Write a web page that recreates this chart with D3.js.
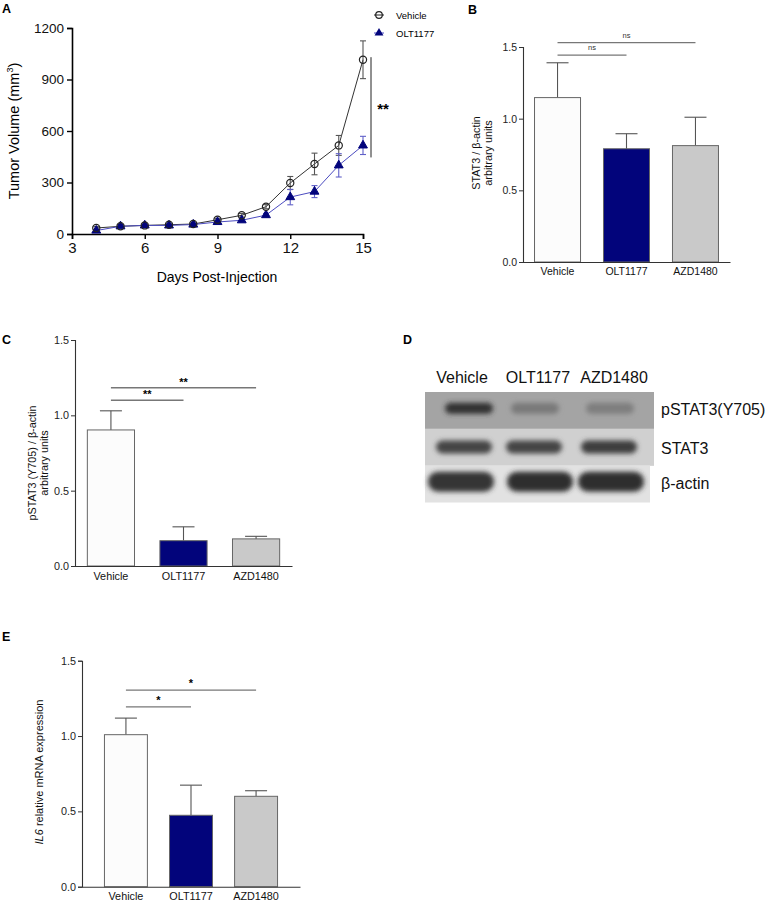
<!DOCTYPE html>
<html><head><meta charset="utf-8">
<script src="https://cdn.jsdelivr.net/npm/d3@7"></script>
<style>
html,body{margin:0;padding:0;background:#fff;}
svg{display:block;font-family:"Liberation Sans",Arial,sans-serif;}
</style></head>
<body>
<svg id="fig" width="768" height="902"></svg>
<script>
// ---------- DATA ----------
const days = [4,5,6,7,8,9,10,11,12,13,14,15];
const vehicleMean = [35,45,50,54,58,83,109,159,297,408,516,1015];
const vehicleErr  = [8,8,6,6,6,8,10,12,38,63,58,110];
const oltMean = [20,45,50,50,55,70,80,110,215,247,400,516];
const oltErr  = [5,6,6,6,6,8,10,10,45,35,68,53];
const dayTicks = [3,6,9,12,15];
const volTicks = [0,300,600,900,1200];

const groups = ["Vehicle","OLT1177","AZD1480"];
const stat3Mean = [1.147,0.79,0.812];
const stat3Err  = [0.243,0.105,0.198];
const pstat3Mean = [0.903,0.168,0.18];
const pstat3Err  = [0.127,0.092,0.017];
const il6Mean = [1.009,0.474,0.60];
const il6Err  = [0.11,0.20,0.037];
const ratioTicks = [0,0.5,1.0,1.5];

const sigB = [{to:"OLT1177",level:1.444,label:"ns"},{to:"AZD1480",level:1.53,label:"ns"}];
const sigC = [{to:"OLT1177",level:1.10,label:"**"},{to:"AZD1480",level:1.183,label:"**"}];
const sigE = [{to:"OLT1177",level:1.193,label:"*"},{to:"AZD1480",level:1.305,label:"*"}];

const blotRows = ["pSTAT3(Y705)","STAT3","β-actin"];
const blotIntensity = [[0.85,0.32,0.28],[0.78,0.78,0.82],[0.88,0.92,0.92]];

const barFill = ["#fcfcfc","#02047b","#c9c9c9"];

const svg = d3.select("#fig");

// panel letters
[["A",2,13],["B",468,14],["C",2,344],["D",403,344],["E",2,641]].forEach(([t,x,y])=>{
  svg.append("text").attr("x",x).attr("y",y).attr("font-size",12.5).attr("font-weight","bold").text(t);
});

// ---------- PANEL A ----------
(function(){
  const x = d3.scaleLinear().domain([3,15]).range([72,363]);
  const y = d3.scaleLinear().domain([0,1200]).range([234,28]);
  const g = svg.append("g");
  const xa = g.append("g").attr("transform","translate(0,234)")
    .call(d3.axisBottom(x).tickValues(dayTicks).tickSize(5).tickPadding(3));
  xa.selectAll("text").attr("font-size",15).attr("fill","#111");
  const ya = g.append("g").attr("transform","translate(72,0)")
    .call(d3.axisLeft(y).tickValues(volTicks).tickFormat(d3.format("d")).tickSize(5).tickPadding(3));
  ya.selectAll("text").attr("font-size",13.5).attr("fill","#111");
  [xa,ya].forEach(a=>{a.select(".domain").attr("stroke","#000").attr("stroke-width",1.6);
    a.selectAll(".tick line").attr("stroke","#000").attr("stroke-width",1.4);});
  g.append("text").attr("x",217).attr("y",282).attr("text-anchor","middle")
    .attr("font-size",14).text("Days Post-Injection");
  const yt = g.append("text").attr("transform","translate(19,131) rotate(-90)")
    .attr("text-anchor","middle").attr("font-size",14.5);
  yt.append("tspan").text("Tumor Volume (mm");
  yt.append("tspan").attr("font-size",9).attr("dy",-6).text("3");
  yt.append("tspan").attr("dy",6).text(")");

  function series(mean,err,lineCol,errCol){
    const pts = days.map((d,i)=>({d,m:mean[i],e:err[i]}));
    g.append("path").datum(pts).attr("fill","none").attr("stroke",lineCol).attr("stroke-width",1)
      .attr("d",d3.line().x(p=>x(p.d)).y(p=>y(p.m)));
    const eb = g.append("g").attr("stroke",errCol).attr("stroke-width",1.1);
    pts.forEach(p=>{
      eb.append("line").attr("x1",x(p.d)).attr("x2",x(p.d)).attr("y1",y(p.m-p.e)).attr("y2",y(p.m+p.e));
      [p.m-p.e,p.m+p.e].forEach(v=>eb.append("line").attr("x1",x(p.d)-3).attr("x2",x(p.d)+3).attr("y1",y(v)).attr("y2",y(v)));
    });
    return pts;
  }
  const vp = series(vehicleMean,vehicleErr,"#333","#555");
  const op = series(oltMean,oltErr,"#4b4bc0","#6060c8");
  g.selectAll(".tri").data(op).join("path").attr("fill","#02047b").attr("stroke","#02047b")
    .attr("transform",p=>`translate(${x(p.d)},${y(p.m)})`)
    .attr("d",d3.symbol(d3.symbolTriangle,34));
  g.selectAll(".circ").data(vp).join("circle").attr("cx",p=>x(p.d)).attr("cy",p=>y(p.m)).attr("r",3.6)
    .attr("fill","none").attr("stroke","#222").attr("stroke-width",1.2);
  // significance
  g.append("line").attr("x1",371).attr("x2",371).attr("y1",y(vehicleMean[11]+15)).attr("y2",y(oltMean[11]-70))
    .attr("stroke","#222").attr("stroke-width",1);
  g.append("text").attr("x",383).attr("y",114).attr("text-anchor","middle").attr("font-size",15).attr("font-weight","bold").text("**");
  // legend
  const lg = g.append("g").attr("font-size",9.5);
  lg.append("line").attr("x1",374).attr("x2",384).attr("y1",15).attr("y2",15).attr("stroke","#222");
  lg.append("circle").attr("cx",379).attr("cy",15).attr("r",3.3).attr("fill","none").attr("stroke","#222").attr("stroke-width",1.2);
  lg.append("text").attr("x",396).attr("y",18.5).text("Vehicle");
  lg.append("line").attr("x1",374).attr("x2",384).attr("y1",33).attr("y2",33).attr("stroke","#4b4bc0");
  lg.append("path").attr("transform","translate(379,33)").attr("d",d3.symbol(d3.symbolTriangle,34)).attr("fill","#02047b");
  lg.append("text").attr("x",396).attr("y",36.5).text("OLT1177");
})();

// ---------- BAR PANELS ----------
function barPanel(o){
  const x = d3.scaleBand().domain(groups).range([o.x0,o.x1]).paddingInner(o.pi).paddingOuter(o.po);
  const y = d3.scaleLinear().domain([0,1.5]).range([o.yb,o.yt]);
  const g = svg.append("g");
  const cx = n=>x(n)+x.bandwidth()/2;
  // error bars (upper only)
  groups.forEach((n,i)=>{
    g.append("line").attr("x1",cx(n)).attr("x2",cx(n)).attr("y1",y(o.mean[i])).attr("y2",y(o.mean[i]+o.err[i]))
      .attr("stroke","#555").attr("stroke-width",1.1);
    g.append("line").attr("x1",cx(n)-11).attr("x2",cx(n)+11).attr("y1",y(o.mean[i]+o.err[i])).attr("y2",y(o.mean[i]+o.err[i]))
      .attr("stroke","#555").attr("stroke-width",1.1);
  });
  g.selectAll(".bar").data(groups).join("rect")
    .attr("x",n=>x(n)).attr("width",x.bandwidth())
    .attr("y",(n,i)=>y(o.mean[i])).attr("height",(n,i)=>y(0)-y(o.mean[i]))
    .attr("fill",(n,i)=>barFill[i]).attr("stroke","#666").attr("stroke-width",1);
  const xa = g.append("g").attr("transform",`translate(0,${o.yb})`)
    .call(d3.axisBottom(x).tickSize(0).tickPadding(6));
  xa.selectAll("text").attr("font-size",o.fs).attr("fill","#111");
  const ya = g.append("g").attr("transform",`translate(${o.x0},0)`)
    .call(d3.axisLeft(y).tickValues(ratioTicks).tickFormat(d3.format(".1f")).tickSize(4).tickPadding(2));
  ya.selectAll("text").attr("font-size",o.fs).attr("fill","#222");
  [xa,ya].forEach(a=>{a.select(".domain").attr("stroke","#333").attr("stroke-width",1.1);
    a.selectAll(".tick line").attr("stroke","#333");});
  // significance
  o.sig.forEach(s=>{
    g.append("line").attr("x1",cx("Vehicle")).attr("x2",cx(s.to)).attr("y1",y(s.level)).attr("y2",y(s.level))
      .attr("stroke","#777").attr("stroke-width",1.3);
    const t = g.append("text").attr("x",(cx("Vehicle")+cx(s.to))/2).attr("text-anchor","middle").text(s.label);
    if(s.label==="ns") t.attr("y",y(s.level)-5).attr("font-size",7.5).attr("fill","#333");
    else t.attr("y",y(s.level)+ (s.label==="*"?-3:-2)).attr("font-size",11).attr("font-weight","bold");
  });
  // y title
  const yt = g.append("text").attr("transform",`translate(${o.tx},${o.ty}) rotate(-90)`)
    .attr("text-anchor","middle").attr("font-size",o.tfs).attr("fill","#111");
  o.title(yt);
}

barPanel({x0:523,x1:730,pi:0.333,po:0.167,yb:262,yt:47,mean:stat3Mean,err:stat3Err,sig:sigB,fs:10.5,tfs:10.8,
  tx:480,ty:153,title:t=>{t.append("tspan").attr("x",0).attr("dy",0).text("STAT3 / β-actin");
    t.append("tspan").attr("x",0).attr("dy",11.5).text("arbitrary units");}});
barPanel({x0:75,x1:292,pi:0.35,po:0.17,yb:566,yt:340,mean:pstat3Mean,err:pstat3Err,sig:sigC,fs:10.8,tfs:10.8,
  tx:36,ty:463,title:t=>{t.append("tspan").attr("x",0).attr("dy",0).text("pSTAT3 (Y705) / β-actin");
    t.append("tspan").attr("x",0).attr("dy",11.5).text("arbitrary units");}});
barPanel({x0:82,x1:300,pi:0.34,po:0.345,yb:886.7,yt:660.7,mean:il6Mean,err:il6Err,sig:sigE,fs:10.8,tfs:11,
  tx:43,ty:772,title:t=>{t.append("tspan").attr("font-style","italic").text("IL6");
    t.append("tspan").text(" relative mRNA expression");}});

// ---------- PANEL D (blot) ----------
(function(){
  const defs = svg.append("defs");
  const f = defs.append("filter").attr("id","blur").attr("x","-20%").attr("y","-50%").attr("width","140%").attr("height","200%");
  f.append("feGaussianBlur").attr("stdDeviation",2.4);
  const lx = d3.scaleBand().domain(groups).range([425,653]);
  const ry = d3.scaleBand().domain(blotRows).range([392,502]);
  const bg = ["#a4a4a4","#d0d0d0","#e2e2e2"];
  const g = svg.append("g");
  blotRows.forEach((r,ri)=>{
    g.append("rect").attr("x",425).attr("y",ry(r)).attr("width",ri===2?225:229).attr("height",ry.bandwidth()+0.5).attr("fill",bg[ri]);
  });
  const bandH = [11,13,20], bandW = [48,56,66], bandDy = [-2,0,-2];
  const laneOff = [[6,-4,-5],[1,-5,-6],[-2,1,-4]];
  blotRows.forEach((r,ri)=>{
    groups.forEach((n,li)=>{
      const c = lx(n)+lx.bandwidth()/2+laneOff[ri][li];
      const cy = ry(r)+ry.bandwidth()/2+bandDy[ri];
      g.append("rect").attr("x",c-bandW[ri]/2).attr("y",cy-bandH[ri]/2).attr("width",bandW[ri]).attr("height",bandH[ri])
        .attr("rx",bandH[ri]/2)
        .attr("fill",d3.interpolateRgb(bg[ri],"#1e1e1e")(blotIntensity[ri][li]))
        .attr("filter","url(#blur)");
    });
    g.append("text").attr("x",661).attr("y",ry(r)+ry.bandwidth()/2+ [5,7,5][ri]).attr("font-size",16).attr("fill","#111").text(r);
  });
  groups.forEach(n=>{
    g.append("text").attr("x",lx(n)+lx.bandwidth()/2-1).attr("y",383).attr("text-anchor","middle").attr("font-size",16).attr("fill","#111").text(n);
  });
})();
</script>
</body></html>
